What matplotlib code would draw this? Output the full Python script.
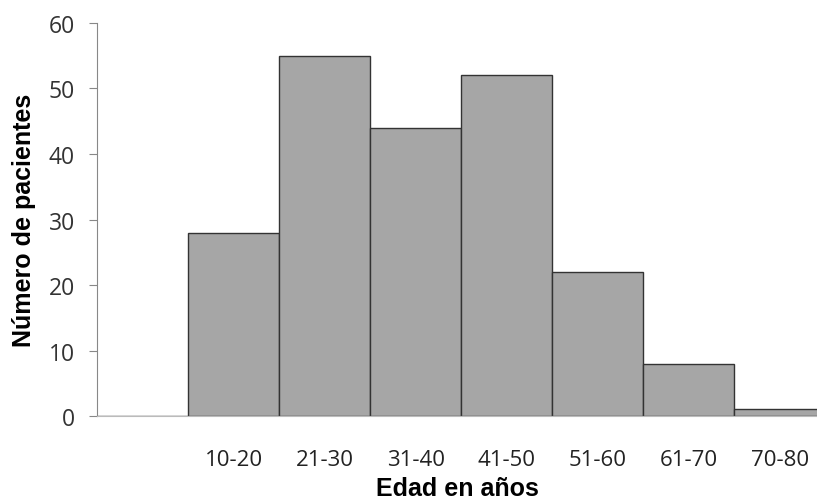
import matplotlib.pyplot as plt

categorias = ['', '10-20', '21-30', '31-40', '41-50', '51-60', '61-70', '70-80']
pacientes = [0, 28, 55, 44, 52, 22, 8, 1]
yticks = [0, 10, 20, 30, 40, 50, 60]

fig = plt.figure(figsize=(8.17, 5.02), dpi=100)
ax = fig.add_axes([0.1187, 0.1693, 0.8813, 0.7829])

x = list(range(len(categorias)))
ax.bar(x, pacientes, width=1.0, color='#a6a6a6', edgecolor='#333333', linewidth=1.0)

ax.set_xlim(-0.5, 7.41)
ax.set_ylim(0, 60)
ax.set_yticks(yticks)
ax.set_xticks(x)
ax.set_xticklabels(categorias)

for s in ['top', 'right']:
    ax.spines[s].set_visible(False)
ax.spines['left'].set_color('#888888')
ax.spines['bottom'].set_color('#bbbbbb')

ax.tick_params(axis='y', length=6, color='#888888', labelsize=16.5, labelcolor='#333333', pad=10)
ax.tick_params(axis='x', length=0, labelsize=16, labelcolor='#222222', pad=24)
for lab in ax.get_xticklabels() + ax.get_yticklabels():
    lab.set_family('Open Sans')

ax.set_xlabel('Edad en años', fontsize=18, fontweight='bold', family='Liberation Sans', labelpad=4)
ax.set_ylabel('Número de pacientes', fontsize=18, fontweight='bold', family='Liberation Sans', labelpad=9)

fig.savefig('out.png', dpi=100)
